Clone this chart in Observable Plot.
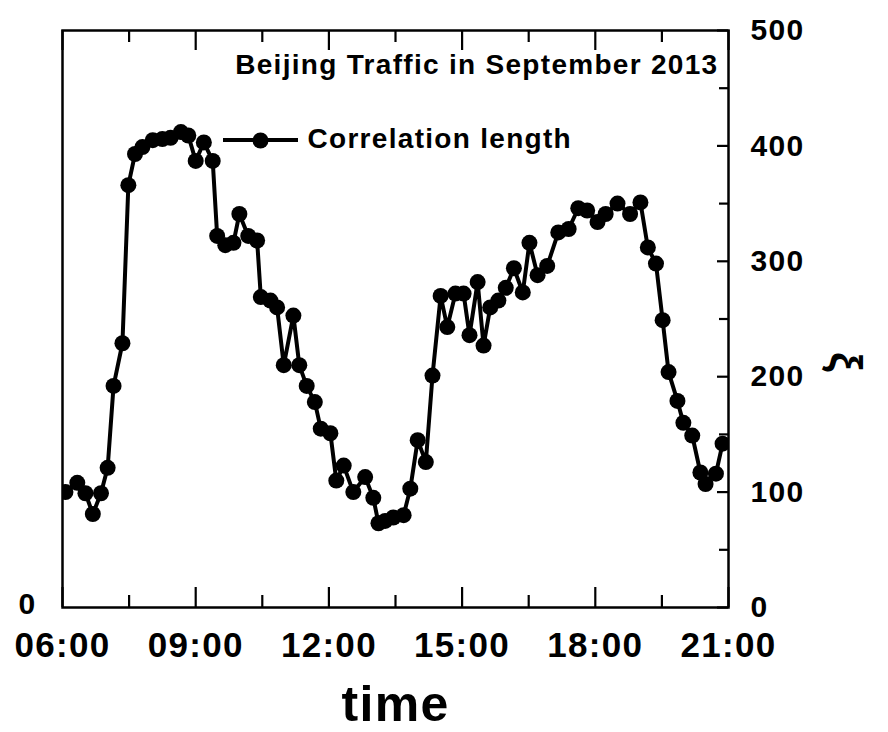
<!DOCTYPE html>
<html><head><meta charset="utf-8">
<script src="https://cdn.jsdelivr.net/npm/d3@7"></script>
<script src="https://cdn.jsdelivr.net/npm/@observablehq/plot@0.6"></script>
<style>
body{margin:0;background:#fff}
svg{display:block}
svg text{letter-spacing:1.3px}
</style>
</head><body><div id="chart"></div>
<script>
const times = ["06:04","06:20","06:31","06:41","06:52","07:01","07:09","07:21","07:29","07:38","07:48",
  "08:02","08:15","08:26","08:40","08:50","09:00","09:11","09:23","09:29","09:40","09:51","09:59",
  "10:11","10:23","10:28","10:41","10:50","10:59","11:12","11:20","11:30","11:41","11:49",
  "12:02","12:10","12:20","12:33","12:49","13:00","13:07","13:16","13:27","13:41","13:50",
  "14:00","14:11","14:20","14:31","14:40","14:51","15:02","15:10","15:21","15:29","15:38","15:49","15:59",
  "16:10","16:22","16:31","16:42","16:55","17:10","17:24","17:37","17:49","18:03","18:14","18:30","18:47",
  "19:01","19:11","19:22","19:31","19:39","19:51","19:59","20:11","20:22","20:29","20:43","20:52"];
const values = [100,108,99,81,99,121,192,229,366,393,399,
  405,406,407,412,409,387,403,387,322,314,316,341,
  322,318,269,266,260,210,253,210,192,178,155,
  151,110,123,100,113,95,73,75,78,80,103,
  145,126,201,270,243,272,272,236,282,227,260,266,277,
  294,273,316,288,296,325,328,346,344,334,341,350,341,
  351,312,298,249,204,179,160,149,117,107,116,142];
const xTickLabels = ["06:00","09:00","12:00","15:00","18:00","21:00"];
const xMinorTicks = ["07:30","10:30","13:30","16:30","19:30"];
const yTickLabels = [0,100,200,300,400,500];
const yMinorTicks = [50,150,250,350,450];
const seriesName = "Correlation length";
const title = "Beijing Traffic in September 2013";
const xTitle = "time";
const yTitle = "ξ";

const toHours = s => { const [h, m] = s.split(":").map(Number); return h + m / 60; };
const data = times.map((t, i) => ({hour: toHours(t), value: values[i]}));

const W = 888, H = 732, mL = 62, mR = 160, mT = 30, mB = 125;
const fh = H - mT - mB, fw = W - mL - mR;
const font = "'Liberation Sans', Arial, sans-serif";
const txt = {fontWeight: "bold", fill: "black", lineAnchor: "middle"};

const legendLine = (index, scales, vals, dims) => {
  const g = d3.create("svg:g");
  g.append("line")
    .attr("x1", dims.marginLeft + 161).attr("x2", dims.marginLeft + 236)
    .attr("y1", dims.marginTop + 110).attr("y2", dims.marginTop + 110)
    .attr("stroke", "black").attr("stroke-width", 4);
  return g.node();
};

const chart = Plot.plot({
  width: W, height: H,
  marginLeft: mL, marginRight: mR, marginTop: mT, marginBottom: mB,
  x: {domain: [6, 21], axis: null},
  y: {domain: [0, 500], axis: null},
  style: {fontFamily: font, fontWeight: "bold", color: "black", background: "white"},
  marks: [
    Plot.line(data, {x: "hour", y: "value", stroke: "black", strokeWidth: 4, clip: true}),
    Plot.dot(data, {x: "hour", y: "value", r: 8, fill: "black", stroke: "none", clip: true}),
    // bottom ticks (inward)
    Plot.tickX(xTickLabels.map(toHours), {x: d => d, insetTop: fh - 20, stroke: "black", strokeWidth: 2.2}),
    Plot.tickX(xMinorTicks.map(toHours), {x: d => d, insetTop: fh - 12, stroke: "black", strokeWidth: 2.2}),
    // top ticks (inward)
    Plot.tickX(xTickLabels.map(toHours), {x: d => d, insetBottom: fh - 20, stroke: "black", strokeWidth: 2.2}),
    Plot.tickX(xMinorTicks.map(toHours), {x: d => d, insetBottom: fh - 12, stroke: "black", strokeWidth: 2.2}),
    // right ticks (inward)
    Plot.tickY(yTickLabels, {y: d => d, insetLeft: fw - 11, stroke: "black", strokeWidth: 2.2}),
    Plot.tickY(yMinorTicks, {y: d => d, insetLeft: fw - 9, stroke: "black", strokeWidth: 2.2}),
    Plot.frame({stroke: "black", strokeWidth: 2.5}),
    // x tick labels
    Plot.text(xTickLabels, {x: toHours, text: d => d, frameAnchor: "bottom", dy: 38, fontSize: 35, ...txt}),
    // right y tick labels
    Plot.text(yTickLabels, {y: d => d, text: d => String(d), frameAnchor: "right", dx: 22, textAnchor: "start", fontSize: 30, ...txt}),
    // left 0
    Plot.text(["0"], {frameAnchor: "bottom-left", dx: -44, dy: -3, fontSize: 30, ...txt}),
    // axis titles
    Plot.text([xTitle], {frameAnchor: "bottom", dy: 97, fontSize: 50, ...txt}),
    Plot.text([yTitle], {frameAnchor: "right", dx: 117, dy: 54, rotate: 90, fontSize: 44, ...txt}),
    // title
    Plot.text([title], {frameAnchor: "top-right", dx: -10, dy: 35, textAnchor: "end", fontSize: 28, ...txt}),
    // legend
    legendLine,
    Plot.dot([seriesName], {frameAnchor: "top-left", dx: 198, dy: 110, r: 8, fill: "black", stroke: "none"}),
    Plot.text([seriesName], {frameAnchor: "top-left", dx: 245, dy: 109, textAnchor: "start", fontSize: 28, ...txt})
  ]
});
document.getElementById("chart").append(chart);
</script>
</body></html>
